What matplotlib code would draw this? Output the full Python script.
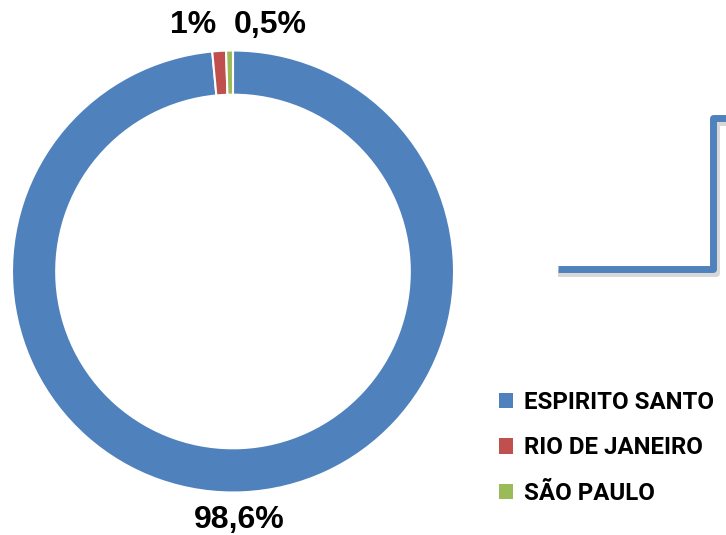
import matplotlib
matplotlib.use('Agg')

import matplotlib.pyplot as plt
from matplotlib.lines import Line2D

# data
states = ['ESPIRITO SANTO', 'RIO DE JANEIRO', 'SÃO PAULO']
shares = [98.6, 1.0, 0.5]
share_labels = ['98,6%', '1%', '0,5%']
colors = ['#4F81BD', '#C0504D', '#9BBB59']

W, H = 726, 535
fig = plt.figure(figsize=(W / 100, H / 100), dpi=100)

# donut axes (pixel box -> figure fraction)
cx, cy, r = 233, 271.5, 221
ax = fig.add_axes([(cx - r) / W, (H - cy - r) / H, 2 * r / W, 2 * r / H])
wedges, _ = ax.pie(shares, colors=colors, startangle=90, counterclock=False,
                   radius=1, wedgeprops=dict(width=0.2, edgecolor='white', linewidth=1.5))
ax.set_xlim(-1, 1)
ax.set_ylim(-1, 1)
ax.set_aspect('auto')
ax.axis('off')

# percentage labels
lab_pos = [(0.03, -1.124), (-0.18, 1.115), (0.167, 1.115)]
for txt, (x, y) in zip(share_labels, lab_pos):
    ax.text(x, y, txt, ha='center', va='center', fontsize=23, fontweight='bold',
            family='Liberation Sans', clip_on=False)

# leftover connector shape (blue elbow with soft shadow)
px = [558, 713, 713, 726]
py = [269, 269, 118, 118]
fx = [p / W for p in px]
fy = [1 - p / H for p in py]
sx = [(p + 3) / W for p in px]
sy = [1 - (p + 4) / H for p in py]
fig.add_artist(Line2D(sx, sy, color='#b0b0b0', lw=5, alpha=0.5, solid_joinstyle='round'))
fig.add_artist(Line2D(fx, fy, color='#4F81BD', lw=5, solid_joinstyle='round',
                      solid_capstyle='butt'))

# legend
leg = fig.legend(wedges, states, loc='upper left', bbox_to_anchor=(489 / W, 1 - 381 / H),
                 frameon=False, handlelength=0.6, handleheight=0.6, handletextpad=0.45,
                 labelspacing=0.95, borderaxespad=0,
                 prop=dict(family='Roboto', weight='bold', size=17.3))
for h in leg.legend_handles:
    h.set_edgecolor('none')

fig.savefig('out.png', dpi=100)
plt.close('all')
